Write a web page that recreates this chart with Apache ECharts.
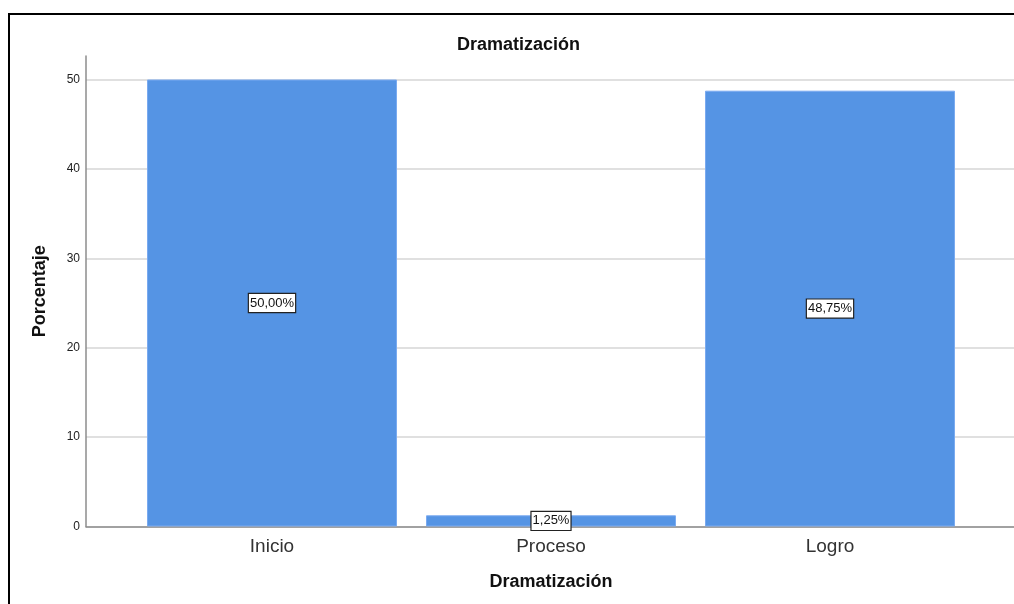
<!DOCTYPE html>
<html>
<head>
<meta charset="utf-8">
<script src="https://cdn.jsdelivr.net/npm/echarts@6/dist/echarts.min.js"></script>
<style>
html,body{margin:0;padding:0;background:#fff;}
#c{width:1014px;height:604px;}
</style>
</head>
<body>
<div id="c"></div>
<script>
var categories = ['Inicio', 'Proceso', 'Logro'];
var percentages = [50.00, 1.25, 48.75];
var yTicks = [0, 10, 20, 30, 40, 50];
var titleText = 'Dramatización';
var xName = 'Dramatización';
var yName = 'Porcentaje';

var YMAX = 52.63;
var FONT = '"Liberation Sans", Arial, sans-serif';
var chart = echarts.init(document.getElementById('c'), null, {renderer: 'canvas'});

var option = {
  backgroundColor: '#ffffff',
  animation: false,
  title: {
    text: titleText,
    left: 452,
    top: 31,
    textStyle: {fontFamily: FONT, fontSize: 18, fontWeight: 'bold', color: '#111'}
  },
  graphic: [{
    type: 'rect',
    shape: {x: 9, y: 14, width: 1200, height: 800},
    style: {fill: 'none', stroke: '#000', lineWidth: 2},
    silent: true
  }],
  grid: [
    {left: 86, right: 0, top: 56, bottom: 77.5},
    {left: 132.5, right: 44.5, top: 56, bottom: 77.5}
  ],
  xAxis: [
    {
      type: 'value', gridIndex: 0, min: 0, max: 1,
      axisLine: {show: true, lineStyle: {color: '#8c8c8c', width: 1.5}},
      axisTick: {show: false}, axisLabel: {show: false}, splitLine: {show: false}
    },
    {
      type: 'category', gridIndex: 1, data: categories,
      axisLine: {show: false}, axisTick: {show: false},
      axisLabel: {fontFamily: FONT, fontSize: 19, color: '#333', margin: 11},
      name: xName, nameLocation: 'middle', nameGap: 47,
      nameTextStyle: {fontFamily: FONT, fontSize: 18, fontWeight: 'bold', color: '#111'}
    }
  ],
  yAxis: [
    {
      type: 'value', gridIndex: 0, min: 0, max: YMAX, interval: 10,
      axisLine: {show: true, lineStyle: {color: '#8c8c8c', width: 1.5}},
      axisTick: {show: false},
      axisLabel: {
        fontFamily: FONT, fontSize: 12, color: '#222', margin: 6,
        formatter: function (v) { return yTicks.indexOf(v) >= 0 ? String(v) : ''; }
      },
      splitLine: {
        show: true,
        lineStyle: {color: ['#d6d6d6','#d6d6d6','#d6d6d6','#d6d6d6','#d6d6d6','#d6d6d6','rgba(0,0,0,0)'], width: 1.5}
      },
      name: yName, nameLocation: 'middle', nameGap: 37,
      nameTextStyle: {fontFamily: FONT, fontSize: 18, fontWeight: 'bold', color: '#111'}
    },
    {
      type: 'value', gridIndex: 1, min: 0, max: YMAX,
      show: false, splitLine: {show: false}
    }
  ],
  series: [{
    type: 'bar',
    xAxisIndex: 1, yAxisIndex: 1,
    data: percentages,
    barCategoryGap: '10.4%',
    itemStyle: {color: '#5594e4', borderColor: '#7aaaf0', borderWidth: 1},
    label: {
      show: true, position: 'inside',
      fontFamily: FONT, fontSize: 13, color: '#111',
      backgroundColor: '#fff', borderColor: '#222', borderWidth: 1.2,
      padding: [3, 1, 2, 1],
      formatter: function (p) { return p.value.toFixed(2).replace('.', ',') + '%'; }
    }
  }]
};
chart.setOption(option);
</script>
</body>
</html>
